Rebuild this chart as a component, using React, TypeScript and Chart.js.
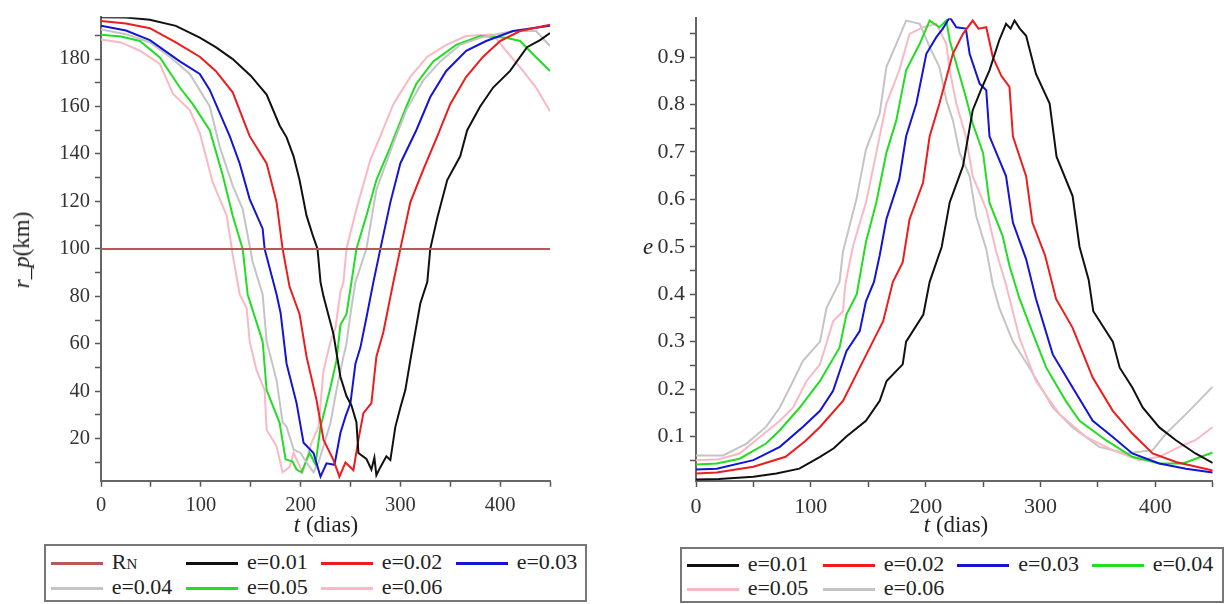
import React, { useEffect, useRef } from 'react';
import { Chart, registerables } from 'chart.js';

Chart.register(...registerables);

const SERIF = '"Liberation Serif", "DejaVu Serif", Tinos, serif';

// ---------- Left chart: r_p (km) vs t (dias) ----------
const RN_VALUE = 100;

const tL1 = [0, 25, 49, 75, 99, 115, 132, 150, 166, 179, 186, 193, 199, 206, 212, 217, 220, 223, 228, 233, 240, 246, 251, 256, 258, 266, 271, 274, 276, 280, 286, 290, 295, 300, 305, 310, 315, 320, 327, 330, 337, 347, 360, 367, 380, 393, 410, 427, 440, 450];
const rL1 = [197.6, 197.5, 196.6, 194, 189, 185, 180, 173, 165, 152, 147, 139, 129, 114, 106, 100, 86, 80, 72, 64, 46, 38, 34, 27, 14, 11.5, 7, 12, 4.6, 8, 12.6, 11, 25, 33, 40.5, 53, 65, 77, 86, 100, 113, 129, 139, 150, 160, 168, 175, 185, 188, 191];

const tL2 = [0, 25, 49, 75, 99, 115, 132, 149, 166, 176, 182, 189, 199, 206, 216, 223, 233, 239, 245, 253, 258, 263, 271, 276, 283, 293, 300, 310, 323, 337, 350, 366, 383, 400, 420, 450];
const rL2 = [196, 195, 193, 187, 181, 175, 166, 147.5, 136, 119.6, 100, 84, 72.5, 54.6, 36.3, 19.6, 11, 4, 10, 6.7, 19.6, 30.8, 35, 54.6, 65, 86, 100, 119.6, 133.4, 147.4, 161, 172.5, 181, 187.6, 191.8, 194.5];

const tL3 = [0, 25, 49, 79, 99, 109, 129, 139, 149, 162, 164, 176, 180, 186, 196, 203, 213, 220, 226, 234, 240, 245, 250, 255, 260, 266, 273, 280, 290, 300, 316, 330, 346, 366, 386, 413, 450];
const rL3 = [194, 192, 188, 179, 173.7, 167, 147.5, 136, 121, 108.5, 100, 80.8, 73, 51.6, 35, 18.3, 14, 4, 9.6, 9, 22.5, 29.3, 35, 51.6, 58.5, 71, 86, 100, 119.6, 136, 150, 164, 175, 183.5, 187.6, 191.8, 194];

const tL4 = [0, 25, 49, 69, 89, 109, 119, 132, 142, 152, 162, 166, 176, 182, 186, 193, 200, 206, 213, 218, 223, 230, 236, 243, 246, 250, 255, 266, 276, 293, 306, 323, 340, 360, 380, 413, 436, 450];
const rL4 = [192.5, 190.5, 187, 181, 173.7, 160, 143, 126.7, 116.8, 94.6, 80.8, 61, 44.6, 27, 25, 15.4, 14, 10, 5.8, 10, 16.8, 26.6, 40.5, 54.6, 60, 72.5, 86, 100, 125, 144.6, 158.5, 171, 179, 186, 189, 191.8, 191.8, 185.5];

const tL5 = [0, 20, 39, 59, 79, 92, 109, 122, 132, 142, 147, 162, 166, 179, 185, 192, 196, 201, 209, 215, 220, 230, 236, 240, 246, 251, 256, 266, 276, 290, 306, 316, 333, 356, 380, 406, 420, 433, 450];
const rL5 = [190.3, 189.5, 187.6, 180.7, 168, 161, 150, 131, 114, 100, 80.8, 61, 40.5, 26.7, 11.3, 10.4, 7, 5.8, 14, 9.2, 25, 41.7, 53, 68, 72.5, 86, 100, 114, 129, 143, 160, 169.6, 179, 186, 189.7, 189, 187.6, 182, 175];

const tL6 = [0, 20, 39, 59, 72, 89, 99, 112, 126, 132, 139, 146, 149, 156, 164, 166, 176, 182, 189, 193, 202, 211, 218, 223, 230, 235, 240, 243, 246, 256, 270, 280, 293, 310, 327, 346, 366, 393, 406, 423, 436, 450];
const rL6 = [188.3, 187, 183.5, 178, 165.4, 158.5, 148.8, 128, 114, 97.5, 80.8, 75, 61, 48.7, 40.5, 23.7, 16.8, 5.8, 8, 14, 5.8, 18.3, 25, 48.7, 61, 66.8, 82, 86, 100, 116.8, 137.6, 147.5, 161, 172.5, 181, 186, 189.7, 190.3, 183.5, 175, 168, 158];

// ---------- Right chart: e vs t (dias) ----------
const tR1 = [0, 20, 50, 70, 90, 108, 120, 131, 148, 160, 166, 180, 183, 198, 203.5, 214, 221, 232.5, 241, 248, 255.6, 264, 270, 274, 277.4, 282, 287.5, 296, 308, 314, 328, 334, 342, 346, 363, 369, 380, 389, 403.5, 418, 435, 450];
const eR1 = [0.009, 0.01, 0.015, 0.022, 0.032, 0.057, 0.075, 0.1, 0.133, 0.175, 0.217, 0.252, 0.3, 0.357, 0.426, 0.5, 0.594, 0.67, 0.788, 0.83, 0.872, 0.935, 0.97, 0.96, 0.977, 0.96, 0.945, 0.865, 0.802, 0.69, 0.607, 0.5, 0.43, 0.364, 0.3, 0.245, 0.203, 0.161, 0.119, 0.092, 0.064, 0.044];

const tR2 = [0, 18, 50, 78, 95, 108, 128, 142.6, 154, 163, 171.5, 180, 186, 197.7, 203.5, 212, 223.7, 232.5, 241, 246, 252.8, 258.5, 266, 273, 276, 287.5, 293, 304, 313.6, 328, 345.5, 363, 380, 397.7, 418, 450];
const eR2 = [0.022, 0.024, 0.036, 0.057, 0.09, 0.12, 0.175, 0.245, 0.3, 0.343, 0.426, 0.467, 0.558, 0.635, 0.733, 0.802, 0.907, 0.949, 0.977, 0.96, 0.963, 0.9, 0.86, 0.837, 0.733, 0.649, 0.551, 0.482, 0.39, 0.329, 0.224, 0.154, 0.106, 0.064, 0.046, 0.028];

const tR3 = [0, 18, 50, 73, 93, 108, 119.4, 131, 142.6, 148, 155, 160, 165.8, 177, 183, 191.9, 200.6, 209.3, 215, 221, 226.7, 235, 238.3, 247, 252.8, 255.6, 270, 276, 287.5, 296, 310.7, 328, 345.5, 363, 380, 403.5, 426.7, 450];
const eR3 = [0.03, 0.032, 0.05, 0.078, 0.12, 0.154, 0.196, 0.28, 0.322, 0.385, 0.426, 0.482, 0.558, 0.642, 0.733, 0.802, 0.907, 0.942, 0.96, 0.984, 0.963, 0.96, 0.907, 0.844, 0.83, 0.733, 0.649, 0.551, 0.474, 0.391, 0.273, 0.203, 0.133, 0.099, 0.064, 0.043, 0.032, 0.024];

const tR4 = [0, 18, 38, 61, 73, 90.4, 108, 125, 131, 140, 148, 157, 165.8, 174.5, 183, 194.8, 203.5, 212, 218, 221, 226.7, 235, 241, 250, 255.6, 267, 273, 281.7, 290.4, 305, 322, 334, 357, 380, 403.5, 424, 450];
const eR4 = [0.041, 0.043, 0.053, 0.085, 0.113, 0.161, 0.217, 0.287, 0.357, 0.4, 0.51, 0.593, 0.698, 0.767, 0.872, 0.928, 0.977, 0.963, 0.977, 0.935, 0.886, 0.816, 0.76, 0.698, 0.593, 0.523, 0.46, 0.391, 0.336, 0.245, 0.175, 0.133, 0.092, 0.057, 0.043, 0.043, 0.066];

const tR5 = [0, 20, 38, 55.7, 73, 84.6, 96.3, 108, 119.4, 128, 130, 136.8, 148, 157, 165.8, 177, 186, 197.7, 209.3, 218, 221, 226.7, 235, 241, 252.8, 261.5, 270, 281.7, 296, 316.5, 339.7, 363, 386, 403.5, 421, 435, 450];
const eR5 = [0.05, 0.052, 0.064, 0.099, 0.133, 0.161, 0.217, 0.252, 0.343, 0.364, 0.42, 0.502, 0.593, 0.698, 0.802, 0.872, 0.949, 0.963, 0.97, 0.928, 0.872, 0.802, 0.733, 0.649, 0.579, 0.489, 0.42, 0.308, 0.217, 0.147, 0.099, 0.071, 0.05, 0.057, 0.078, 0.092, 0.12];

const tR6 = [0, 23.7, 44, 61, 73, 84.6, 93, 108, 113.7, 125, 128, 139.7, 148, 160, 165.8, 177, 183, 194.8, 203.5, 212, 218, 223.7, 229.6, 238.3, 244, 252.8, 258.5, 264.3, 276, 290.4, 310.7, 328, 351.3, 374.5, 397.7, 409.3, 426.7, 438, 450];
const eR6 = [0.06, 0.06, 0.085, 0.12, 0.161, 0.217, 0.259, 0.3, 0.371, 0.426, 0.49, 0.6, 0.705, 0.781, 0.879, 0.942, 0.977, 0.97, 0.921, 0.879, 0.809, 0.767, 0.698, 0.649, 0.565, 0.495, 0.42, 0.37, 0.3, 0.245, 0.161, 0.119, 0.078, 0.064, 0.071, 0.106, 0.147, 0.175, 0.205];

// ---------- Ticks ----------
const X_TICKS = [0, 50, 100, 150, 200, 250, 300, 350, 400, 450];
const LEFT_Y_TICKS = [10, 20, 30, 40, 50, 60, 70, 80, 90, 100, 110, 120, 130, 140, 150, 160, 170, 180, 190];
const RIGHT_Y_TICKS = [0.05, 0.1, 0.15, 0.2, 0.25, 0.3, 0.35, 0.4, 0.45, 0.5, 0.55, 0.6, 0.65, 0.7, 0.75, 0.8, 0.85, 0.9, 0.95];

const LABELS = ['e=0.01', 'e=0.02', 'e=0.03', 'e=0.04', 'e=0.05', 'e=0.06'];
const BLACK = '#111111';
const RED = '#ee1c1c';
const BLUE = '#1414d8';
const GRAY = '#c4c4c4';
const GREEN = '#22dd22';
const PINK = '#f9b8c4';
const LEFT_COLORS = [BLACK, RED, BLUE, GRAY, GREEN, PINK];
const RIGHT_COLORS = [BLACK, RED, BLUE, GREEN, PINK, GRAY];
const RN_COLOR = '#b85858';

const zip = (t: number[], v: number[]) => t.map((x, i) => ({ x, y: v[i] }));

const LEFT_SERIES = [
  [tL1, rL1], [tL2, rL2], [tL3, rL3], [tL4, rL4], [tL5, rL5], [tL6, rL6],
];
const RIGHT_SERIES = [
  [tR1, eR1], [tR2, eR2], [tR3, eR3], [tR4, eR4], [tR5, eR5], [tR6, eR6],
];

function axisCommon(fontSize: number) {
  return {
    grid: {
      display: true,
      drawOnChartArea: false,
      drawTicks: true,
      tickLength: 6,
      tickColor: '#555',
      tickWidth: 1.5,
    },
    border: { display: true, color: '#666', width: 2 },
    ticks: {
      font: { family: SERIF, size: fontSize },
      color: '#333',
      autoSkip: false,
      maxRotation: 0,
    },
  };
}

function makeOptions(cfg: {
  yMin: number; yMax: number; yTicks: number[]; yLabel: (v: number) => string;
  yWidth: number; xHeight: number; padTop: number; padRight: number; fontSize: number;
}) {
  const xc = axisCommon(cfg.fontSize);
  const yc = axisCommon(cfg.fontSize);
  return {
    responsive: false,
    animation: false as const,
    events: [] as any[],
    layout: { padding: { top: cfg.padTop, right: cfg.padRight, left: 0, bottom: 0 } },
    plugins: { legend: { display: false }, tooltip: { enabled: false } },
    elements: { point: { radius: 0 }, line: { tension: 0 } },
    scales: {
      x: {
        type: 'linear' as const,
        min: 0,
        max: 450,
        ...xc,
        ticks: {
          ...xc.ticks,
          padding: 7,
          callback: (v: any) => (Number(v) % 100 === 0 ? String(v) : ''),
        },
        afterBuildTicks: (axis: any) => {
          axis.ticks = X_TICKS.map((value) => ({ value }));
        },
        afterFit: (scale: any) => {
          scale.height = cfg.xHeight;
        },
      },
      y: {
        type: 'linear' as const,
        min: cfg.yMin,
        max: cfg.yMax,
        ...yc,
        ticks: {
          ...yc.ticks,
          padding: 5,
          callback: (v: any) => cfg.yLabel(Number(v)),
        },
        afterBuildTicks: (axis: any) => {
          axis.ticks = cfg.yTicks.map((value) => ({ value }));
        },
        afterFit: (scale: any) => {
          scale.width = cfg.yWidth;
        },
      },
    },
  };
}

function LeftChart() {
  const ref = useRef<HTMLCanvasElement>(null);
  useEffect(() => {
    if (!ref.current) return;
    const datasets: any[] = [
      {
        label: 'RN',
        data: [{ x: 0, y: RN_VALUE }, { x: 450, y: RN_VALUE }],
        borderColor: RN_COLOR,
        borderWidth: 2,
        pointRadius: 0,
      },
      ...LEFT_SERIES.map(([t, v], i) => ({
        label: LABELS[i],
        data: zip(t, v),
        borderColor: LEFT_COLORS[i],
        borderWidth: 2,
        pointRadius: 0,
      })),
    ];
    const chart = new Chart(ref.current, {
      type: 'line',
      data: { datasets },
      options: makeOptions({
        yMin: 2.3, yMax: 197.6, yTicks: LEFT_Y_TICKS,
        yLabel: (v) => (v % 20 === 0 ? String(v) : ''),
        yWidth: 101, xHeight: 59.3, padTop: 12.7, padRight: 50, fontSize: 20.5,
      }) as any,
    });
    return () => chart.destroy();
  }, []);
  return (
    <canvas ref={ref} width={600} height={540}
      style={{ position: 'absolute', left: 0, top: 0, width: 600, height: 540 }} />
  );
}

function RightChart() {
  const ref = useRef<HTMLCanvasElement>(null);
  useEffect(() => {
    if (!ref.current) return;
    const datasets: any[] = RIGHT_SERIES.map(([t, v], i) => ({
      label: LABELS[i],
      data: zip(t, v),
      borderColor: RIGHT_COLORS[i],
      borderWidth: 2,
      pointRadius: 0,
    }));
    const chart = new Chart(ref.current, {
      type: 'line',
      data: { datasets },
      options: makeOptions({
        yMin: 0.006, yMax: 0.982, yTicks: RIGHT_Y_TICKS,
        yLabel: (v) => (Math.round(v * 100) % 10 === 0 ? v.toFixed(1) : ''),
        yWidth: 86, xHeight: 59, padTop: 14, padRight: 11.3, fontSize: 22,
      }) as any,
    });
    return () => chart.destroy();
  }, []);
  return (
    <canvas ref={ref} width={614} height={540}
      style={{ position: 'absolute', left: 610, top: 0, width: 614, height: 540 }} />
  );
}

const legendText: React.CSSProperties = {
  position: 'absolute',
  fontFamily: SERIF,
  fontSize: 22,
  color: '#222',
  lineHeight: '24px',
  whiteSpace: 'nowrap',
};

function LegendItem(props: { x: number; y: number; color: string; children: React.ReactNode }) {
  return (
    <>
      <div style={{ position: 'absolute', left: props.x, top: props.y - 1.5, width: 52, height: 3, background: props.color }} />
      <div style={{ ...legendText, left: props.x + 61, top: props.y - 13 }}>{props.children}</div>
    </>
  );
}

function Legend(props: {
  left: number; top: number; width: number; height: number;
  items: { color: string; label: React.ReactNode }[];
  lineX: number[]; rowY: number[];
}) {
  return (
    <>
      <div style={{
        position: 'absolute', left: props.left, top: props.top, width: props.width, height: props.height,
        border: '2px solid #777', boxSizing: 'border-box', background: '#fff',
      }} />
      {props.items.map((it, i) => (
        <LegendItem key={i} x={props.lineX[i % 4]} y={props.rowY[Math.floor(i / 4)]} color={it.color}>
          {it.label}
        </LegendItem>
      ))}
    </>
  );
}

const titleStyle: React.CSSProperties = {
  position: 'absolute',
  fontFamily: SERIF,
  fontSize: 23,
  color: '#222',
  whiteSpace: 'nowrap',
  transform: 'translate(-50%, -50%)',
  lineHeight: '26px',
};

export default function App() {
  const leftItems = [
    { color: RN_COLOR, label: <span>R<span style={{ fontSize: 15 }}>N</span></span> },
    ...LABELS.map((l, i) => ({ color: LEFT_COLORS[i], label: l })),
  ];
  const rightItems = LABELS.map((l, i) => ({ color: RIGHT_COLORS[i], label: l }));
  return (
    <div style={{ position: 'fixed', left: 0, top: 0, width: 1224, height: 604, background: '#fff', overflow: 'hidden' }}>
      <LeftChart />
      <RightChart />
      <div style={{ ...titleStyle, left: 326, top: 525 }}><i>t</i> (dias)</div>
      <div style={{ ...titleStyle, left: 956, top: 525 }}><i>t</i> (dias)</div>
      <div style={{ ...titleStyle, left: 22, top: 250, transform: 'translate(-50%, -50%) rotate(-90deg)' }}>
        <i>r_p</i>(km)
      </div>
      <div style={{ ...titleStyle, left: 648, top: 247 }}><i>e</i></div>
      <Legend left={44} top={544} width={543} height={58} items={leftItems}
        lineX={[50.7, 186, 320.7, 455.7]} rowY={[563, 588]} />
      <Legend left={680} top={547} width={544} height={56} items={rightItems}
        lineX={[686.7, 822.7, 957.3, 1091.7]} rowY={[565, 589]} />
    </div>
  );
}
